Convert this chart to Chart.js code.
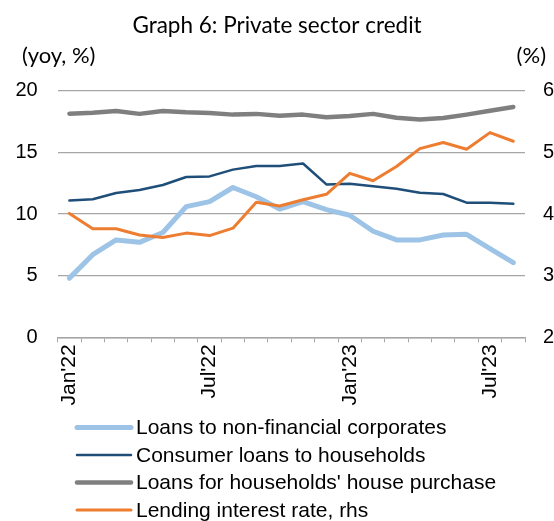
<!DOCTYPE html>
<html>
<head>
<meta charset="utf-8">
<script src="https://cdn.jsdelivr.net/npm/chart.js@4.4.0/dist/chart.umd.min.js"></script>
<style>
  html, body { margin: 0; padding: 0; background: #ffffff; }
  #wrap { width: 554px; height: 521px; position: relative; }
</style>
</head>
<body>
<div id="wrap"><canvas id="c" width="554" height="521"></canvas></div>
<script>
// Monthly observations, Jan'22 – Aug'23
const months = ["Jan'22","Feb'22","Mar'22","Apr'22","May'22","Jun'22","Jul'22","Aug'22","Sep'22","Oct'22","Nov'22","Dec'22",
                "Jan'23","Feb'23","Mar'23","Apr'23","May'23","Jun'23","Jul'23","Aug'23"];

// Credit growth, yoy %
const corporateLoans = [4.8, 6.7, 7.9, 7.7, 8.5, 10.6, 11.0, 12.15, 11.4, 10.4, 11.0, 10.35, 9.9, 8.6, 7.9, 7.9, 8.3, 8.35, 7.2, 6.05];
const consumerLoans  = [11.1, 11.2, 11.7, 11.95, 12.35, 13.0, 13.05, 13.6, 13.9, 13.9, 14.1, 12.4, 12.46, 12.25, 12.05, 11.72, 11.62, 10.92, 10.92, 10.84];
const housingLoans   = [18.14, 18.22, 18.35, 18.12, 18.35, 18.25, 18.2, 18.06, 18.12, 17.96, 18.06, 17.84, 17.95, 18.12, 17.8, 17.66, 17.78, 18.06, 18.38, 18.68];
// Lending interest rate, % (right-hand scale)
const lendingRate    = [4.01, 3.76, 3.76, 3.66, 3.62, 3.69, 3.65, 3.77, 4.19, 4.13, 4.23, 4.32, 4.66, 4.54, 4.77, 5.06, 5.16, 5.05, 5.32, 5.18];

const leftTicks = [0, 5, 10, 15, 20];
const rightTicks = [2, 3, 4, 5, 6];
const shownMonths = ["Jan'22", "Jul'22", "Jan'23", "Jul'23"];

const AXIS_FONT = "'Liberation Sans', Arial, sans-serif";
const TITLE_FONT = "Lato, 'Open Sans', sans-serif";
const GRID = '#a6a6a6';

// Heading units and stacked legend
const extras = {
  id: 'extras',
  afterDraw(chart) {
    const ctx = chart.ctx;
    ctx.save();
    ctx.fillStyle = '#000';
    ctx.font = '22px ' + TITLE_FONT;
    ctx.textBaseline = 'middle';
    ctx.textAlign = 'left';
    ctx.fillText('(yoy, %)', 22, 56);
    ctx.textAlign = 'right';
    ctx.fillText('(%)', 546, 56);

    const x0 = 77, x1 = 131, tx = 136, y0 = 427.5, dy = 27.5;
    ctx.textAlign = 'left';
    ctx.font = '21px ' + AXIS_FONT;
    chart.data.datasets.forEach((ds, i) => {
      const y = y0 + i * dy;
      ctx.beginPath();
      ctx.strokeStyle = ds.borderColor;
      ctx.lineWidth = ds.borderWidth;
      ctx.lineCap = 'round';
      ctx.moveTo(x0, y);
      ctx.lineTo(x1, y);
      ctx.stroke();
      ctx.fillStyle = '#000';
      ctx.fillText(ds.label, tx, y + 1);
    });
    ctx.restore();
  }
};

new Chart(document.getElementById('c'), {
  type: 'line',
  data: {
    labels: months,
    datasets: [
      { label: 'Loans to non-financial corporates', data: corporateLoans, borderColor: '#9dc3e6', borderWidth: 5, yAxisID: 'y', order: 3 },
      { label: 'Consumer loans to households', data: consumerLoans, borderColor: '#1f4e79', borderWidth: 2.5, yAxisID: 'y', order: 2 },
      { label: "Loans for households' house purchase", data: housingLoans, borderColor: '#7f7f7f', borderWidth: 4.5, yAxisID: 'y', order: 1 },
      { label: 'Lending interest rate, rhs', data: lendingRate, borderColor: '#ed7d31', borderWidth: 3, yAxisID: 'y1', order: 0 }
    ]
  },
  options: {
    responsive: false,
    animation: false,
    devicePixelRatio: 1,
    elements: { point: { radius: 0, hoverRadius: 0 }, line: { tension: 0, borderCapStyle: 'round', borderJoinStyle: 'round' } },
    layout: { padding: 0 },
    plugins: {
      legend: { display: false },
      tooltip: { enabled: false },
      title: {
        display: true,
        text: 'Graph 6: Private sector credit',
        color: '#000',
        font: { family: TITLE_FONT, size: 22.5, weight: 'normal', lineHeight: 1.2 },
        padding: { top: 12, bottom: 51.7 }
      }
    },
    scales: {
      x: {
        type: 'category',
        offset: true,
        grid: { offset: true, drawOnChartArea: false, drawTicks: true, tickLength: 5, color: GRID },
        border: { display: true, color: GRID, width: 1.5 },
        ticks: {
          autoSkip: false, maxRotation: 90, minRotation: 90, padding: 2,
          color: '#000', font: { family: AXIS_FONT, size: 21 },
          callback(value) { const m = months[value]; return shownMonths.includes(m) ? m : ''; }
        },
        afterFit(scale) { scale.height = 521 - 337.3; }
      },
      y: {
        position: 'left', min: 0, max: 20,
        afterBuildTicks(scale) { scale.ticks = leftTicks.map(v => ({ value: v })); },
        grid: { color: GRID, lineWidth: 1.3, drawTicks: false },
        border: { display: false },
        ticks: { padding: 20, color: '#000', font: { family: AXIS_FONT, size: 20 } },
        afterFit(scale) { scale.width = 57.7; }
      },
      y1: {
        position: 'right', min: 2, max: 6,
        afterBuildTicks(scale) { scale.ticks = rightTicks.map(v => ({ value: v })); },
        grid: { drawOnChartArea: false, drawTicks: false },
        border: { display: false },
        ticks: { padding: 18, color: '#000', font: { family: AXIS_FONT, size: 20 } },
        afterFit(scale) { scale.width = 29; }
      }
    }
  },
  plugins: [extras]
});
</script>
</body>
</html>
